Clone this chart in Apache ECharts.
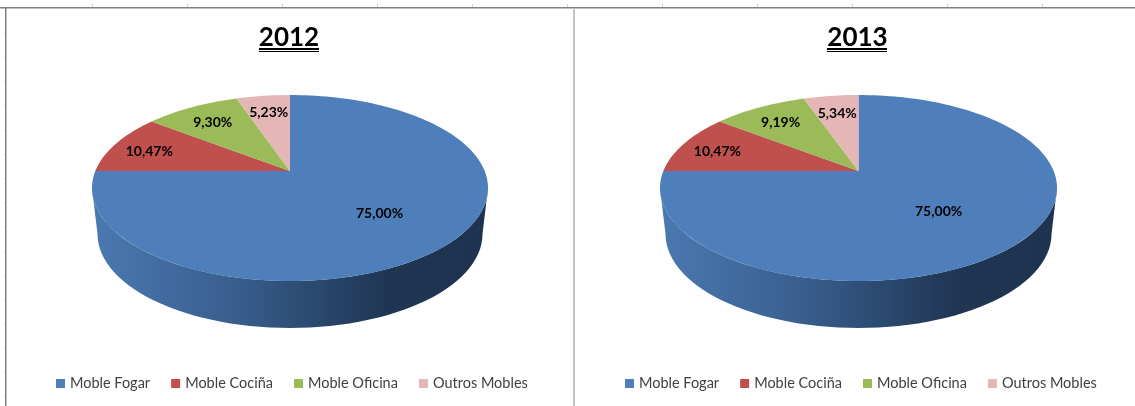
<!DOCTYPE html>
<html>
<head>
<meta charset="utf-8">
<style>
    html, body { margin: 0; padding: 0; background: #fff; }
    #chart { width: 1135px; height: 406px; }
</style>
<script src="https://cdn.jsdelivr.net/npm/echarts@6/dist/echarts.min.js"></script>
</head>
<body>
<div id="chart"></div>
<script>
    var categories = ['Moble Fogar', 'Moble Cociña', 'Moble Oficina', 'Outros Mobles'];
    var years = ['2012', '2013'];
    var values2012 = [75.00, 10.47, 9.30, 5.23];
    var values2013 = [75.00, 10.47, 9.19, 5.34];
    var colors = ['#4f7fbb', '#c0504d', '#9bbb59', '#e5b6b6'];

    // apex of the slices and the perspective of the top face
    var pies = [
        {name: years[0], values: values2012, cx: 290, rx: 198, labelR: [0.6, 0.8, 0.76, 0.76], labelDy: [1, 3, 1, 1]},
        {name: years[1], values: values2013, cx: 858.5, rx: 198.5, labelR: [0.54, 0.8, 0.76, 0.74], labelDy: [4, 3, 1, 0]}
    ];
    var apexY = 171, topY = 95, bottomY = 281;
    var wallCy = 234, wallRy = 94, wallShrink = 5.5;

    var persp = (apexY - topY - (bottomY - apexY)) / (bottomY - topY);   // about -0.18
    var scaleV = (apexY - topY) + topY * persp;

    // a point of the unit circle -> a point of the tilted top face
    function project(pie, u, v) {
        var d = 1 + persp * v;
        var k = pie.rx * Math.sqrt(1 - persp * persp);
        return [pie.cx + k * u / d, (scaleV * v + apexY) / d];
    }

    function polar(pie, percent, r) {
        var a = percent / 100 * Math.PI * 2;
        return project(pie, Math.sin(a) * r, -Math.cos(a) * r);
    }

    function wallShape(pie) {
        var pts = [], i, a;
        var cyTop = (topY + bottomY) / 2, ryTop = (bottomY - topY) / 2;
        for (i = 0; i <= 60; i++) {
            a = Math.PI * i / 60;
            pts.push([pie.cx - pie.rx * Math.cos(a), cyTop + ryTop * Math.sin(a)]);
        }
        for (i = 60; i >= 0; i--) {
            a = Math.PI * i / 60;
            pts.push([pie.cx - (pie.rx - wallShrink) * Math.cos(a), wallCy + wallRy * Math.sin(a)]);
        }
        return pts;
    }

    function makeRenderer(pie, index) {
        return function (params, api) {
            var start = api.value(0), val = api.value(1);
            var pts = [project(pie, 0, 0)];
            var steps = Math.max(8, Math.round(val * 2));
            for (var i = 0; i <= steps; i++) {
                pts.push(polar(pie, start + val * i / steps, 1));
            }
            var mid = polar(pie, start + val / 2, pie.labelR[index]);
            var children = [];
            if (index === 0) {
                children.push({
                    type: 'polygon',
                    shape: {points: wallShape(pie)},
                    style: {
                        fill: new echarts.graphic.LinearGradient(0, 0, 1, 0, [
                            {offset: 0, color: '#4a79b0'},
                            {offset: 0.35, color: '#395f8f'},
                            {offset: 0.75, color: '#1f3552'},
                            {offset: 1, color: '#1d3350'}
                        ])
                    }
                });
            }
            children.push({
                type: 'polygon',
                shape: {points: pts},
                style: {fill: api.visual('color')}
            });
            children.push({
                type: 'text',
                z2: 10,
                style: {
                    x: mid[0],
                    y: mid[1] + pie.labelDy[index],
                    text: val.toFixed(2).replace('.', ',') + '%',
                    fill: '#000',
                    align: 'center',
                    verticalAlign: 'middle',
                    font: 'bold 14px Lato'
                }
            });
            return {type: 'group', children: children};
        };
    }

    var series = [];
    pies.forEach(function (pie) {
        var sum = 0;
        pie.values.forEach(function (v, i) {
            series.push({
                type: 'custom',
                name: categories[i],
                coordinateSystem: 'none',
                silent: true,
                animation: false,
                color: colors[i],
                z: 2,
                renderItem: makeRenderer(pie, i),
                data: [[sum, v]]
            });
            sum += v;
        });
    });

    function makeLegend(left) {
        return {
            data: categories.map(function (c) { return {name: c, icon: 'rect'}; }),
            left: left,
            top: 371,
            itemWidth: 9,
            itemHeight: 9,
            itemGap: 21,
            selectedMode: false,
            textStyle: {fontFamily: 'Lato', fontSize: 14.5, color: '#404040'}
        };
    }

    function underline(cx) {
        return [
            {type: 'rect', shape: {x: cx - 30, y: 48, width: 60, height: 2}, style: {fill: '#000'}},
            {type: 'rect', shape: {x: cx - 30, y: 51, width: 60, height: 1}, style: {fill: '#000'}}
        ];
    }

    // spreadsheet frame behind the two charts
    var frame = [
        {type: 'rect', shape: {x: 0, y: 7, width: 1135, height: 1.5}, style: {fill: '#808080'}},
        {type: 'rect', shape: {x: 5, y: 7, width: 1.5, height: 399}, style: {fill: '#808080'}},
        {type: 'rect', shape: {x: 573, y: 8, width: 2, height: 398}, style: {fill: '#c4c4c4'}}
    ];
    for (var t = 0; t < 11; t++) {
        frame.push({type: 'rect', shape: {x: 92 + 95 * t, y: 4, width: 1, height: 3}, style: {fill: '#d0d0d0'}});
    }
    for (var s = 0; s < 16; s++) {
        frame.push({type: 'rect', shape: {x: 4, y: 33 + 24.2 * s, width: 1, height: 1}, style: {fill: '#d0d0d0'}});
    }

    var chart = echarts.init(document.getElementById('chart'), null, {renderer: 'canvas'});
    chart.setOption({
        backgroundColor: '#fff',
        animation: false,
        title: pies.map(function (pie) {
            return {
                text: pie.name,
                left: pie.cx - 6,
                top: 20,
                textAlign: 'center',
                textStyle: {fontFamily: 'Lato', fontWeight: 'bold', fontSize: 26, color: '#000'}
            };
        }),
        legend: [makeLegend(51), makeLegend(620)],
        graphic: frame.concat(underline(289), underline(857)),
        series: series
    });
</script>
</body>
</html>
